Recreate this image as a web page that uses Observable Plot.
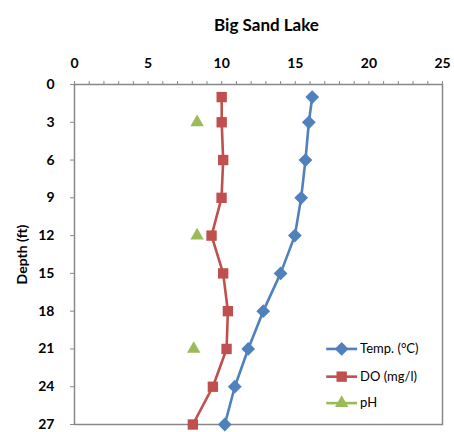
<!DOCTYPE html>
<html>
<head>
<meta charset="utf-8">
<script src="https://cdn.jsdelivr.net/npm/d3@7"></script>
<script src="https://cdn.jsdelivr.net/npm/@observablehq/plot@0.6"></script>
<style>
  body { margin: 0; background: #fff; }
  svg { font-family: Lato, "Open Sans", sans-serif; }
</style>
</head>
<body>
<div id="chart"></div>
<script>
const depths = [1, 3, 6, 9, 12, 15, 18, 21, 24, 27];
const temp = [16.15, 15.92, 15.69, 15.4, 14.97, 14.0, 12.82, 11.8, 10.89, 10.21];
const dissolvedOxygen = [10.0, 10.0, 10.1, 9.99, 9.31, 10.1, 10.42, 10.33, 9.4, 8.04];
const phDepths = [3, 12, 21];
const ph = [8.33, 8.33, 8.1];
const xTicks = [0, 5, 10, 15, 20, 25];
const yTicks = [0, 3, 6, 9, 12, 15, 18, 21, 24, 27];
const seriesNames = ["Temp. (°C)", "DO (mg/l)", "pH"];
const colors = ["#4F81BD", "#C0504D", "#9BBB59"];

const tempData = depths.map((d, i) => ({depth: d, value: temp[i]}));
const doData = depths.map((d, i) => ({depth: d, value: dissolvedOxygen[i]}));
const phData = phDepths.map((d, i) => ({depth: d, value: ph[i]}));

const legend = seriesNames.map((name, i) => ({name, color: colors[i], row: i}));
const legY = [21, 23.2, 25.3];
const legX0 = 17.1, legX1 = 19.2, legXm = 18.15;

const axisColor = "#888888";
const rD = 6.2, rS = 6.6, rT = 6.4;

const plot = Plot.plot({
  width: 454,
  height: 432,
  marginLeft: 74,
  marginRight: 12,
  marginTop: 84,
  marginBottom: 8,
  x: {domain: [0, 25], axis: null},
  y: {domain: [0, 27], reverse: true, axis: null},
  marks: [
    Plot.frame({stroke: axisColor, strokeWidth: 1.5}),
    Plot.axisX({anchor: "top", ticks: d3.range(0, 26), tickSize: 4, tickFormat: () => "", stroke: axisColor, strokeWidth: 1, label: null}),
    Plot.axisX({anchor: "top", ticks: xTicks, tickSize: 0, tickPadding: 17, fontSize: 14, fontWeight: "bold", fill: "#000", label: null}),
    Plot.axisY({anchor: "left", ticks: yTicks, tickSize: 4, tickPadding: 16, fontSize: 14, fontWeight: "bold", stroke: axisColor, color: "#000", label: null}),
    Plot.line(tempData, {x: "value", y: "depth", stroke: colors[0], strokeWidth: 2.6}),
    Plot.dot(tempData, {x: "value", y: "depth", symbol: "diamond2", r: rD, fill: colors[0], stroke: null}),
    Plot.line(doData, {x: "value", y: "depth", stroke: colors[1], strokeWidth: 2.6}),
    Plot.dot(doData, {x: "value", y: "depth", symbol: "square2", r: rS, fill: colors[1], stroke: null}),
    Plot.dot(phData, {x: "value", y: "depth", symbol: "triangle2", r: rT, fill: colors[2], stroke: null}),
    Plot.link(legend, {x1: legX0, x2: legX1, y1: d => legY[d.row], y2: d => legY[d.row], stroke: "color", strokeWidth: 2.6}),
    Plot.dot(legend.slice(0,1), {x: legXm, y: d => legY[d.row], symbol: "diamond2", r: rD, fill: "color", stroke: null}),
    Plot.dot(legend.slice(1,2), {x: legXm, y: d => legY[d.row], symbol: "square2", r: rS, fill: "color", stroke: null}),
    Plot.dot(legend.slice(2,3), {x: legXm, y: d => legY[d.row], symbol: "triangle2", r: rT, fill: "color", stroke: null}),
    Plot.text(legend, {x: legX1, y: d => legY[d.row], text: "name", textAnchor: "start", dx: 3, fontSize: 13, fill: "#000"}),
    Plot.text(["Depth (ft)"], {frameAnchor: "left", textAnchor: "middle", dx: -52, rotate: -90, fontSize: 14, fontWeight: "bold", fill: "#000"}),
    Plot.text(["Big Sand Lake"], {frameAnchor: "top", dy: -66, dx: 8, fontSize: 17, fontWeight: "bold", fill: "#000"})
  ]
});
document.getElementById("chart").appendChild(plot);
</script>
</body>
</html>
